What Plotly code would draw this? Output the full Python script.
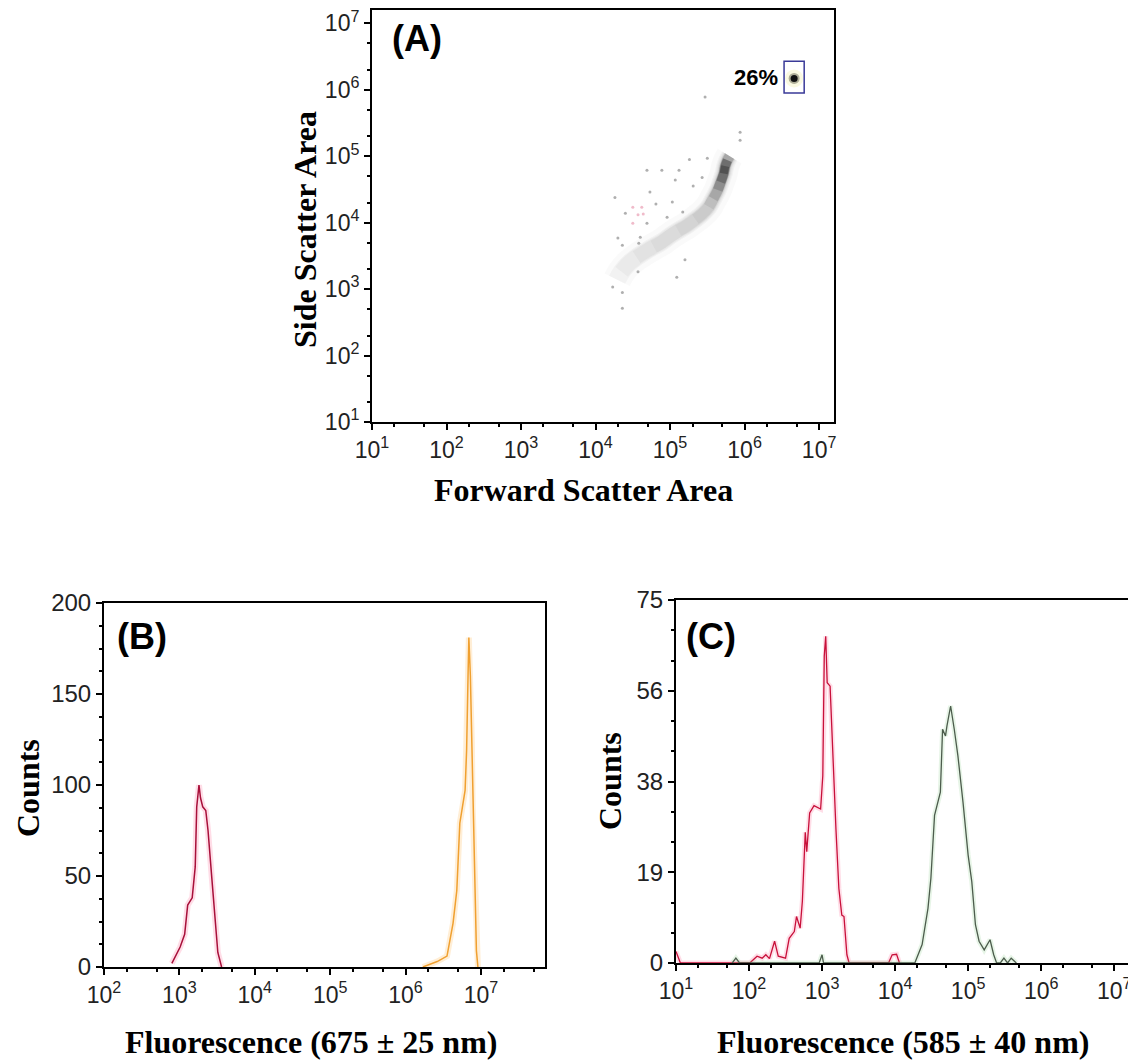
import numpy as np
import plotly.graph_objects as go

# --------------------------------------------------------------
# Data
# --------------------------------------------------------------
# (A) main scatter arc, log10 of forward / side scatter + density level
arc_fsc_log = [4.29, 4.35, 4.44, 4.55, 4.66, 4.78, 4.89, 5.00, 5.11, 5.23,
               5.34, 5.43, 5.52, 5.58, 5.64, 5.68, 5.72, 5.74, 5.77, 5.80]
arc_ssc_log = [3.14, 3.26, 3.38, 3.48, 3.56, 3.64, 3.71, 3.80, 3.88, 3.96,
               4.05, 4.13, 4.24, 4.36, 4.49, 4.61, 4.74, 4.85, 4.94, 5.00]
arc_level = [0.08, 0.12, 0.14, 0.16, 0.18, 0.20, 0.22, 0.24, 0.26, 0.28,
             0.30, 0.33, 0.38, 0.45, 0.55, 0.66, 0.78, 0.85, 0.72, 0.45]

# (A) scattered events
dot_fsc_log = [5.47, 5.94, 5.94, 5.26, 5.50, 4.69, 4.89, 5.12, 5.43, 5.07,
               5.31, 4.73, 5.03, 4.81, 4.26, 4.40, 4.96, 5.17, 4.69, 4.60,
               4.30, 4.36, 4.58, 5.20, 4.57, 5.09, 4.23, 4.36, 4.36]
dot_ssc_log = [5.89, 5.36, 5.24, 4.95, 4.97, 4.79, 4.79, 4.79, 4.68, 4.64,
               4.55, 4.46, 4.31, 4.28, 4.38, 4.14, 4.08, 4.16, 3.99, 3.78,
               3.77, 3.66, 3.69, 3.44, 3.26, 3.18, 3.03, 2.95, 2.71]
pink_fsc_log = [4.50, 4.62, 4.64, 4.50, 4.57]
pink_ssc_log = [4.23, 4.23, 4.13, 3.99, 4.12]

# (A) gated bead population
gate_fsc_log = [6.53, 6.80]
gate_ssc_log = [5.95, 6.43]
bead_fsc_log = [6.665]
bead_ssc_log = [6.17]
gate_label = "26%"

# (B) fluorescence 675 nm histograms
b_red_log = [2.90, 2.94, 3.01, 3.07, 3.11, 3.17, 3.21, 3.23, 3.26, 3.28,
             3.31, 3.35, 3.38, 3.43, 3.47, 3.51, 3.56]
b_red_cnt = [2, 5, 11, 18, 34, 38, 55, 88, 100, 93, 88, 86, 75, 49, 27, 8, 0]
b_orange_log = [6.23, 6.42, 6.55, 6.63, 6.68, 6.72, 6.79, 6.81, 6.83, 6.84,
                6.86, 6.88, 6.89, 6.92, 6.94, 6.96]
b_orange_cnt = [0, 3, 6, 24, 42, 79, 97, 119, 162, 181, 160, 123, 88, 37, 9, 0]

# (C) fluorescence 585 nm histograms
c_red_log = [1.00, 1.02, 1.06, 2.01, 2.11, 2.18, 2.23, 2.28, 2.35, 2.40,
             2.50, 2.55, 2.62, 2.65, 2.70, 2.73, 2.77, 2.79, 2.83, 2.89,
             2.98, 3.01, 3.03, 3.05, 3.07, 3.11, 3.14, 3.19, 3.23, 3.27,
             3.30, 3.34, 3.37, 3.91, 3.96, 4.02, 4.06]
c_red_cnt = [2.4, 1.5, 0, 0, 1.4, 1.0, 1.7, 0.9, 4.5, 1.4,
             1.0, 5.1, 6.5, 9.6, 7.2, 12.7, 27, 23, 31, 32.5,
             31.8, 38.7, 63.4, 67.5, 57.9, 57.2, 45.5, 27.7, 15.4, 9.9,
             9.6, 1.7, 0, 0, 1.7, 1.8, 0]
c_green_log = [1.77, 1.82, 1.87, 2.96, 3.00, 3.02, 4.27, 4.37, 4.45, 4.49,
               4.54, 4.62, 4.65, 4.69, 4.71, 4.76, 4.81, 4.86, 4.93, 5.00,
               5.05, 5.10, 5.15, 5.22, 5.30, 5.35, 5.39, 5.44, 5.49, 5.54,
               5.59, 5.66]
c_green_cnt = [0, 1.0, 0, 0, 1.7, 0, 0, 3.8, 11.3, 17.5,
               30.5, 35.3, 48.3, 46.9, 49, 53.1, 48.3, 42.8, 33.2, 22.3,
               16.8, 7.9, 4.5, 2.7, 4.8, 1.7, 0, 0, 1.0, 0,
               1.0, 0]

log_ticks = [1, 2, 3, 4, 5, 6, 7]
c_count_ticks = [0, 18.75, 37.5, 56.25, 75]
c_count_text = ["0", "19", "38", "56", "75"]

# --------------------------------------------------------------
# Figure  (page body has an 8px margin, so work in screen pixels)
# --------------------------------------------------------------
OFF = 8
W, H = 1136 - OFF, 1061 - OFF
pw = lambda x: (x - OFF) / W
ph = lambda y: 1 - (y - OFF) / H

p10 = lambda v: list(10 ** np.array(v, dtype=float))

fig = go.Figure()

# (A) arc: stacked translucent spline bands, denser parts get more layers
ax_x, ax_y = np.array(p10(arc_fsc_log)), np.array(p10(arc_ssc_log))
lv = np.array(arc_level)
fig.add_trace(go.Scatter(x=ax_x, y=ax_y, mode="lines",
                         line=dict(color="rgba(210,210,210,0.12)", width=28, shape="spline"),
                         xaxis="x", yaxis="y", hoverinfo="skip"))
bands = [(0.00, 18, 0.035), (0.10, 16, 0.035), (0.15, 14, 0.035), (0.20, 13, 0.04),
         (0.25, 12, 0.04), (0.30, 11, 0.05), (0.35, 11, 0.08), (0.45, 10, 0.15),
         (0.55, 10, 0.20), (0.65, 9, 0.30), (0.75, 8, 0.40), (0.80, 6, 0.40)]
for thr, width, alpha in bands:
    keep = lv >= thr
    fig.add_trace(go.Scatter(x=ax_x[keep], y=ax_y[keep], mode="lines",
                             line=dict(color="rgba(40,40,40,%.3f)" % alpha, width=width,
                                       shape="spline"),
                             xaxis="x", yaxis="y", hoverinfo="skip"))

fig.add_trace(go.Scatter(x=p10(dot_fsc_log), y=p10(dot_ssc_log), mode="markers",
                         marker=dict(size=3, color="rgba(110,110,110,0.55)"),
                         xaxis="x", yaxis="y"))
fig.add_trace(go.Scatter(x=p10(pink_fsc_log), y=p10(pink_ssc_log), mode="markers",
                         marker=dict(size=3, color="rgba(225,120,150,0.5)"),
                         xaxis="x", yaxis="y"))
fig.add_trace(go.Scatter(x=p10(bead_fsc_log), y=p10(bead_ssc_log), mode="markers",
                         marker=dict(size=18, color="rgba(240,238,170,0.35)", line_width=0),
                         xaxis="x", yaxis="y"))
fig.add_trace(go.Scatter(x=p10(bead_fsc_log), y=p10(bead_ssc_log), mode="markers",
                         marker=dict(size=11, color="rgba(60,60,40,0.4)", line_width=0),
                         xaxis="x", yaxis="y"))
fig.add_trace(go.Scatter(x=p10(bead_fsc_log), y=p10(bead_ssc_log), mode="markers",
                         marker=dict(size=7, color="#111", line_width=0),
                         xaxis="x", yaxis="y"))
fig.add_shape(type="rect", xref="x", yref="y",
              x0=10 ** gate_fsc_log[0], x1=10 ** gate_fsc_log[1],
              y0=10 ** gate_ssc_log[0], y1=10 ** gate_ssc_log[1],
              line=dict(color="#3a3a98", width=1.5))

# (B)
for xs, ys, col, halo in [(b_red_log, b_red_cnt, "#a8103a", "rgba(255,120,160,0.25)"),
                          (b_orange_log, b_orange_cnt, "#f0a030", "rgba(255,200,120,0.30)")]:
    fig.add_trace(go.Scatter(x=p10(xs), y=ys, mode="lines", line=dict(color=halo, width=6),
                             xaxis="x2", yaxis="y2"))
    fig.add_trace(go.Scatter(x=p10(xs), y=ys, mode="lines", line=dict(color=col, width=1.5),
                             xaxis="x2", yaxis="y2"))

# (C)
for xs, ys, col, halo in [(c_red_log, c_red_cnt, "#c8103a", "rgba(255,120,160,0.25)"),
                          (c_green_log, c_green_cnt, "#4c5c4c", "rgba(120,200,120,0.18)")]:
    fig.add_trace(go.Scatter(x=p10(xs), y=ys, mode="lines", line=dict(color=halo, width=5),
                             xaxis="x3", yaxis="y3"))
    fig.add_trace(go.Scatter(x=p10(xs), y=ys, mode="lines", line=dict(color=col, width=1.3),
                             xaxis="x3", yaxis="y3"))

tick_font = dict(family="Arial, Liberation Sans, sans-serif", size=23, color="#222")
log_text = ["10<sup>%d</sup>" % t for t in log_ticks]


def log_axis(rng, domain, anchor):
    return dict(type="log", range=rng, domain=domain, anchor=anchor,
                tickvals=[10 ** t for t in log_ticks], ticktext=log_text,
                ticks="outside", ticklen=6, tickwidth=1.5, tickcolor="black",
                minor=dict(ticks="outside", ticklen=3, tickcolor="black", showgrid=False),
                showline=True, linecolor="black", linewidth=2, mirror=True,
                showgrid=False, zeroline=False, tickfont=tick_font,
                ticklabeloverflow="allow")


def lin_axis(rng, domain, anchor, tickvals, ticktext, minor_dtick):
    return dict(range=rng, domain=domain, anchor=anchor,
                tickvals=tickvals, ticktext=ticktext,
                ticks="outside", ticklen=6, tickwidth=1.5, tickcolor="black",
                minor=dict(ticks="outside", ticklen=3, tickcolor="black", dtick=minor_dtick),
                showline=True, linecolor="black", linewidth=2, mirror=True,
                showgrid=False, zeroline=False, ticklabeloverflow="allow",
                tickfont=dict(family="Arial, Liberation Sans, sans-serif", size=24, color="#222"))


fig.update_layout(
    width=W, height=H,
    margin=dict(l=0, r=0, t=0, b=0, autoexpand=False),
    paper_bgcolor="white", plot_bgcolor="white",
    showlegend=False,
    xaxis=log_axis([1, 7.2], [pw(372), pw(834)], "y"),
    yaxis=log_axis([1, 7.2], [ph(422), ph(10)], "x"),
    xaxis2=log_axis([2, 7.85], [pw(104), pw(545)], "y2"),
    yaxis2=lin_axis([0, 200], [ph(967), ph(603)], "x2",
                    [0, 50, 100, 150, 200], ["0", "50", "100", "150", "200"], 12.5),
    xaxis3=log_axis([1, 7.23], [pw(676), pw(1131)], "y3"),
    yaxis3=lin_axis([0, 75], [ph(963), ph(600)], "x3",
                    c_count_ticks, c_count_text, 6.25),
)

title_font = dict(family="Times New Roman, Liberation Serif, serif", size=32, color="black")
panel_font = dict(family="Arial, Liberation Sans, sans-serif", size=36, color="black")
notes = [
    ("<b>Forward Scatter Area</b>", 583, 490, 0, title_font),
    ("<b>Side Scatter Area</b>", 305, 230, -90, title_font),
    ("<b>Fluorescence (675 ± 25 nm)</b>", 311, 1042, 0, title_font),
    ("<b>Counts</b>", 28, 788, -90, title_font),
    ("<b>Fluorescence (585 ± 40 nm)</b>", 903, 1042, 0, title_font),
    ("<b>Counts</b>", 610, 781, -90, title_font),
    ("<b>(A)</b>", 417, 39, 0, panel_font),
    ("<b>(B)</b>", 142, 636, 0, panel_font),
    ("<b>(C)</b>", 711, 636, 0, panel_font),
]
for text, x, y, ang, f in notes:
    fig.add_annotation(text=text, x=pw(x), y=ph(y), xref="paper", yref="paper",
                       showarrow=False, textangle=ang, font=f,
                       xanchor="center", yanchor="middle")

fig.add_annotation(text="<b>%s</b>" % gate_label, x=gate_fsc_log[0] - 0.06,
                   y=np.mean(gate_ssc_log), xref="x", yref="y", showarrow=False,
                   xanchor="right", yanchor="middle",
                   font=dict(family="Arial, Liberation Sans, sans-serif", size=22, color="black"))

fig.write_html("out.html")
